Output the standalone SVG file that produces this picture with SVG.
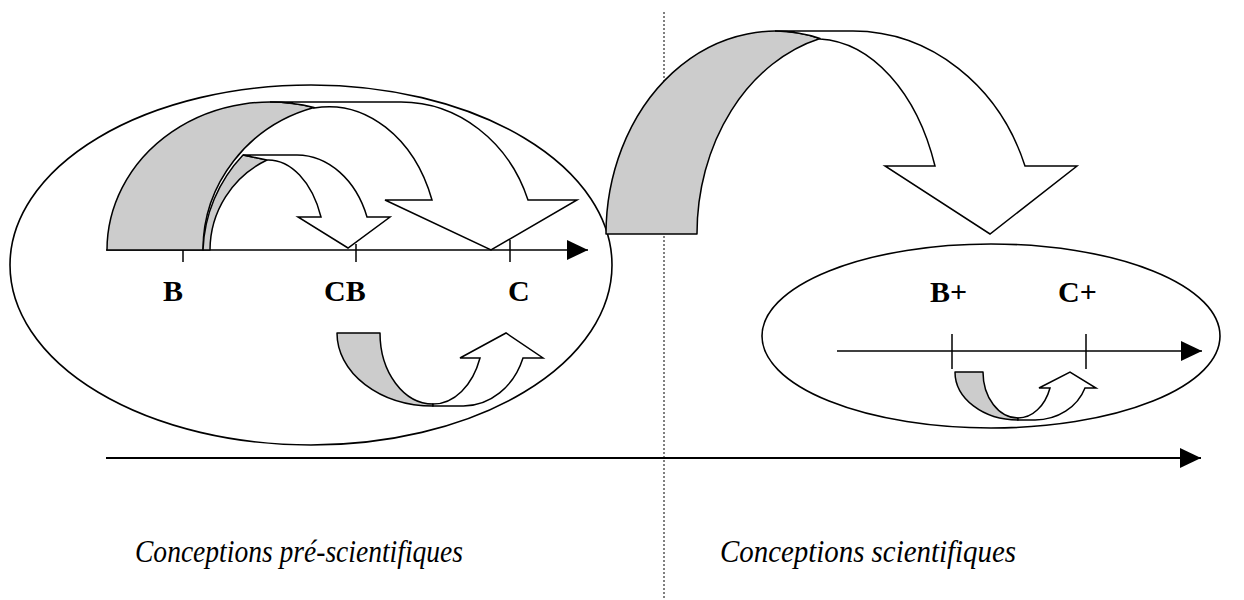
<svg xmlns="http://www.w3.org/2000/svg" width="1244" height="600" viewBox="0 0 1244 600">
<style>
.ol{fill:none;stroke:#000;stroke-width:1.6}
.bk{fill:#cccccc;stroke:#000;stroke-width:1.5;stroke-linejoin:round}
.fr{fill:#ffffff;stroke:#000;stroke-width:1.5;stroke-linejoin:miter}
.ax{fill:none;stroke:#000;stroke-width:1.5}
.tk{stroke:#000;stroke-width:1.5}
.lb{font-family:"Liberation Serif","Times New Roman",serif;font-weight:bold;font-size:30px;fill:#000}
.it{font-family:"Liberation Serif","Times New Roman",serif;font-style:italic;font-size:31px;fill:#000}
</style>
<defs>
<marker id="ah" markerUnits="userSpaceOnUse" markerWidth="22" markerHeight="22" viewBox="0 0 22 22" refX="21" refY="11" orient="auto">
<path d="M0,1 L21,11 L0,21 Z" fill="#000"/>
</marker>
</defs>
<rect width="1244" height="600" fill="#fff"/>
<g id="divider">
<line x1="664" y1="12" x2="664" y2="600" stroke="#000" stroke-width="1" stroke-dasharray="2,2"/>
</g>
<g id="ellipse-left"><ellipse class="ol" cx="311" cy="265" rx="301" ry="180"/></g>
<g id="ellipse-right"><ellipse class="ol" cx="991" cy="336" rx="229" ry="92"/></g>
<g id="connectors">
<line class="ax" x1="106" y1="250" x2="588" y2="250" marker-end="url(#ah)"/>
<line class="ax" x1="837" y1="351" x2="1202" y2="351" marker-end="url(#ah)"/>
<line x1="106" y1="458" x2="1201" y2="458" stroke="#000" stroke-width="2.2" marker-end="url(#ah)"/>
<line class="tk" x1="183" y1="250" x2="183" y2="262"/>
<line class="tk" x1="356" y1="244" x2="356" y2="262"/>
<line class="tk" x1="510" y1="240" x2="510" y2="262"/>
<line class="tk" x1="952" y1="334" x2="952" y2="369"/>
<line class="tk" x1="1086" y1="334" x2="1086" y2="369"/>
</g>
<g id="arrow-big-left">
<path class="bk" d="M107,250 A163,148 0 0 1 314,107.5 A153,148 0 0 0 203,250 Z"/>
<path class="fr" d="M314,107.5 A163,148 0 0 0 270,102 L401,102 A135,148 0 0 1 528,200 L577,200 L491,250 L385,200 L432,200 A110,142 0 0 0 314,108 Z"/>
</g>
<g id="arrow-small-left">
<path class="bk" d="M203,250 A153,148 0 0 1 243,155 L267,160 A100,100 0 0 0 210,250 Z"/>
<path class="fr" d="M243,155 L297,155 A75,95 0 0 1 367,217 L390,217 L348,248 L298,217 L321,217 A57,91 0 0 0 267,160 Z"/>
</g>
<g id="arrow-up-left">
<path class="bk" d="M337,333 L380,333 A53,71 0 0 0 433,404 L433,406 A96,73 0 0 1 337,333 Z"/>
<path class="fr" d="M433,406 L463,406 A63.5,73 0 0 0 523,358 L543,358 L506,333 L460,358 L480,358 A50,71 0 0 1 433,404 Z"/>
</g>
<g id="arrow-big-top">
<path class="bk" d="M606,234 A169,203 0 0 1 820,38.5 A165,202 0 0 0 697,234 Z"/>
<path class="fr" d="M820,38.5 A169,203 0 0 0 775,31 L853,31 A183,203 0 0 1 1025,166 L1077,166 L990,234 L885,166 L935,166 A128,195 0 0 0 820,39 Z"/>
</g>
<g id="arrow-up-right">
<path class="bk" d="M955,372 L983,372 A35,46 0 0 0 1018,418 L1018,420 A63,48 0 0 1 955,372 Z"/>
<path class="fr" d="M1018,420 L1035,420 A53,48 0 0 0 1085,388 L1096,388 L1070,372 L1039,388 L1050,388 A34,46 0 0 1 1018,418 Z"/>
</g>
<g id="labels">
<text class="lb" x="163" y="301">B</text>
<text class="lb" x="324" y="301">CB</text>
<text class="lb" x="508" y="301">C</text>
<text class="lb" x="930" y="302">B+</text>
<text class="lb" x="1058" y="302">C+</text>
<text class="it" x="135" y="562" textLength="328" lengthAdjust="spacingAndGlyphs">Conceptions pré-scientifiques</text>
<text class="it" x="720" y="562" textLength="296" lengthAdjust="spacingAndGlyphs">Conceptions scientifiques</text>
</g>
</svg>
